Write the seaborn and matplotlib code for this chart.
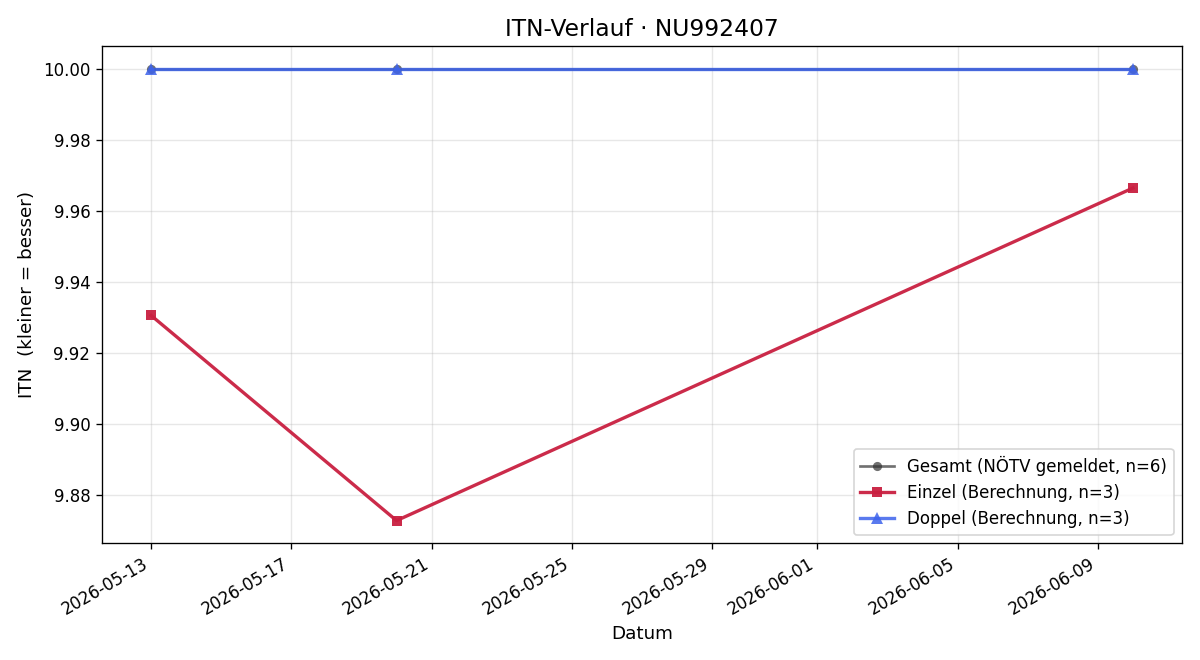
import matplotlib
matplotlib.use("Agg")
import matplotlib.pyplot as plt
import seaborn as sns
import pandas as pd

dates = ["2026-05-13", "2026-05-20", "2026-06-10"]
gesamt = [10.0, 10.0, 10.0]
einzel = [9.9305, 9.8727, 9.9664]
doppel = [10.0, 10.0, 10.0]

labels = ["Gesamt (NÖTV gemeldet, n=6)", "Einzel (Berechnung, n=3)", "Doppel (Berechnung, n=3)"]

d = pd.to_datetime(dates)
fig, ax = plt.subplots(figsize=(10, 5.5), dpi=120)

sns.lineplot(x=d, y=gesamt, ax=ax, color="#333333", alpha=0.7, marker="o", markersize=5.5,
             linewidth=1.6, markeredgewidth=0, label=labels[0])
sns.lineplot(x=d, y=einzel, ax=ax, color="#c91f40", alpha=0.95, marker="s", markersize=6.5,
             linewidth=2, markeredgewidth=0, label=labels[1])
sns.lineplot(x=d, y=doppel, ax=ax, color="#3d63ec", alpha=0.85, marker="^", markersize=7,
             linewidth=2, markeredgewidth=0, label=labels[2])

ax.set_title("ITN-Verlauf · NU992407", fontsize=14)
ax.set_xlabel("Datum", fontsize=11)
ax.set_ylabel("ITN  (kleiner = besser)", fontsize=11)
ax.tick_params(labelsize=10)
ax.grid(True, alpha=0.3)
ax.legend(loc="lower right", fontsize=10)
fig.autofmt_xdate()
fig.subplots_adjust(left=0.085, right=0.985, top=0.93, bottom=0.177)
fig.savefig("out.png", dpi=120)
